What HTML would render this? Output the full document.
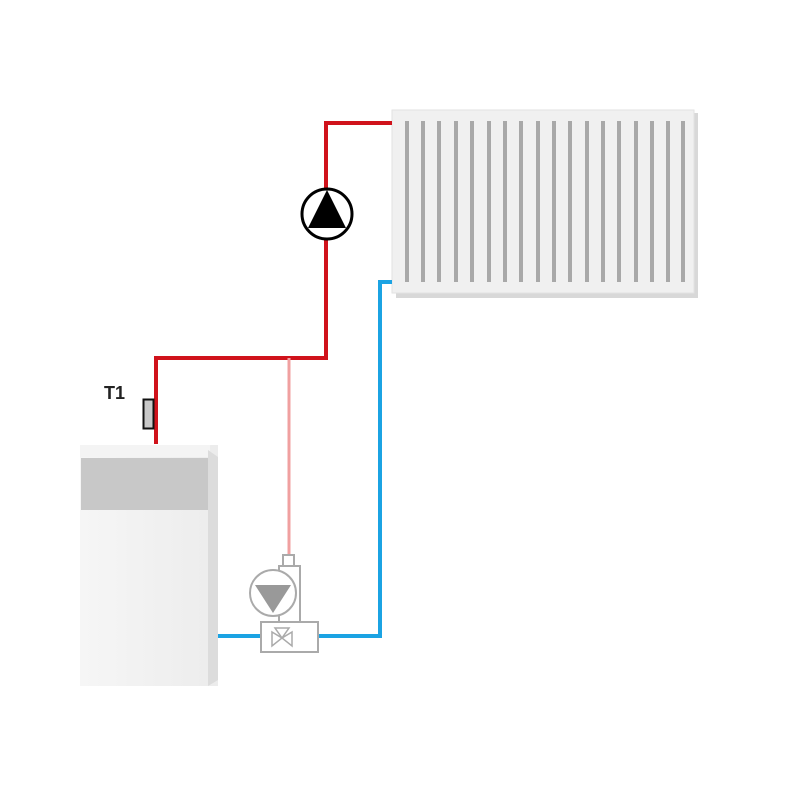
<!DOCTYPE html>
<html><head><style>body{margin:0;background:#fff}</style></head><body>
<svg width="800" height="800" viewBox="0 0 800 800" xmlns="http://www.w3.org/2000/svg">
<defs>
<linearGradient id="bf" x1="0" x2="1"><stop offset="0" stop-color="#f6f6f6"/><stop offset="1" stop-color="#ececec"/></linearGradient>
</defs>
<!-- boiler -->
<rect x="80" y="445" width="138" height="241" fill="url(#bf)"/>
<rect x="80" y="445" width="130" height="12" fill="#f4f4f4"/>
<polygon points="208,450 218,457 218,680 208,686" fill="#dcdcdc"/>
<rect x="81" y="458" width="127" height="52" fill="#c8c8c8"/>
<!-- radiator -->
<rect x="396" y="113" width="302" height="185" fill="#d8d8d8"/>
<rect x="392" y="110" width="302" height="183" fill="#f0f0f0" stroke="#e2e2e2"/>
<g fill="#a8a8a8">
<rect x="405" y="121" width="4" height="161"/><rect x="421" y="121" width="4" height="161"/><rect x="437" y="121" width="4" height="161"/><rect x="454" y="121" width="4" height="161"/><rect x="470" y="121" width="4" height="161"/><rect x="487" y="121" width="4" height="161"/><rect x="503" y="121" width="4" height="161"/><rect x="519" y="121" width="4" height="161"/><rect x="536" y="121" width="4" height="161"/><rect x="552" y="121" width="4" height="161"/><rect x="568" y="121" width="4" height="161"/><rect x="585" y="121" width="4" height="161"/><rect x="601" y="121" width="4" height="161"/><rect x="617" y="121" width="4" height="161"/><rect x="634" y="121" width="4" height="161"/><rect x="650" y="121" width="4" height="161"/><rect x="666" y="121" width="4" height="161"/><rect x="681" y="121" width="4" height="161"/>
</g>
<!-- pipes -->
<polyline points="156,444 156,358 326,358 326,123 392,123" fill="none" stroke="#d0121b" stroke-width="4"/>
<line x1="289" y1="358" x2="289" y2="556" stroke="#f0a0a0" stroke-width="3"/>
<polyline points="218,636 380,636 380,282 392,282" fill="none" stroke="#1ba3e3" stroke-width="4"/>
<!-- T1 -->
<rect x="143.5" y="399.5" width="10" height="29" fill="#c8c8c8" stroke="#111" stroke-width="2"/>
<text x="104" y="399" font-family="Liberation Sans, sans-serif" font-weight="bold" font-size="18" fill="#222">T1</text>
<!-- pump -->
<circle cx="327" cy="214" r="25" fill="#fff" stroke="#000" stroke-width="3"/>
<polygon points="327,190 346,228 308,228" fill="#000"/>
<!-- mixing group -->
<g fill="#fff" stroke="#aaa" stroke-width="2">
<rect x="283" y="555" width="11" height="12"/>
<rect x="279" y="566" width="21" height="56"/>
<rect x="261" y="622" width="57" height="30"/>
<circle cx="273" cy="593" r="23"/>
</g>
<polygon points="255,585 291,585 273,613" fill="#999"/>
<g fill="none" stroke="#aaa" stroke-width="1.5">
<polygon points="275,628 289,628 282,638"/>
<polygon points="272,632 282,638 272,646"/>
<polygon points="292,632 282,638 292,646"/>
</g>
</svg>
</body></html>
